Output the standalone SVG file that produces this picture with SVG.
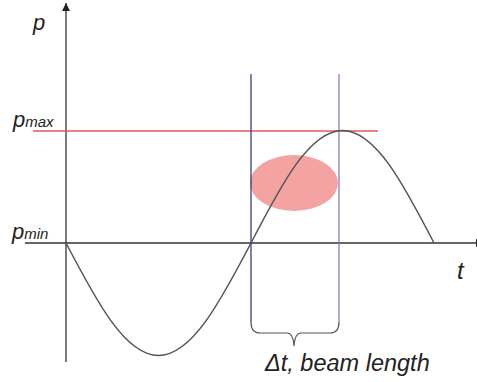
<svg xmlns="http://www.w3.org/2000/svg" width="477" height="382" viewBox="0 0 477 382">
<style>
.axis{stroke:#333;stroke-width:1.3;fill:none}
.lbl{font-family:"Liberation Sans",Arial,sans-serif;font-style:italic;fill:#222}
.vline{stroke-width:1.2;fill:none}
</style>
<defs>
<marker id="arr" viewBox="0 0 10 10" refX="10" refY="5" markerWidth="8" markerHeight="8" markerUnits="userSpaceOnUse" orient="auto">
<path d="M0,0 L10,5 L0,10 z" fill="#222"/>
</marker>
</defs>
<rect width="477" height="382" fill="#fff"/>
<g id="ellipse">
<ellipse cx="294" cy="183" rx="44" ry="28" fill="#f4a3a3"/>
</g>
<g id="connectors">
<line class="axis" x1="66" y1="362" x2="66" y2="3" marker-end="url(#arr)"/>
<line class="axis" x1="25" y1="243" x2="484" y2="243" marker-end="url(#arr)"/>
<line x1="33" y1="131" x2="378" y2="131" stroke="#e05a5a" stroke-width="1.4"/>
<line class="vline" x1="251" y1="74" x2="251" y2="322" stroke="#2e2a74"/>
<line class="vline" x1="339" y1="74" x2="339" y2="322" stroke="#7a78b4"/>
<path d="M251,322 Q251,333 260,333 L287,333 Q293,333 294,346 Q295,333 301,333 L330,333 Q339,333 339,322" fill="none" stroke="#555" stroke-width="1.2"/>
<path d="M66,243 C96.16,300.63 125.02,355.5 158.5,355.5 C191.98,355.5 220.84,300.63 251,243 C280.84,185.37 309.39,130.5 342.5,130.5 C375.61,130.5 404.16,185.37 434,243" fill="none" stroke="#555" stroke-width="1.5"/>
</g>
<g id="labels">
<text class="lbl" x="33" y="30" font-size="22">p</text>
<text class="lbl" x="13" y="127" font-size="22">p<tspan font-size="15">max</tspan></text>
<text class="lbl" x="12" y="239" font-size="22">p<tspan font-size="15">min</tspan></text>
<text class="lbl" x="457" y="279" font-size="24">t</text>
<text class="lbl" x="265" y="371" font-size="23.5">Δt, beam length</text>
</g>
</svg>
